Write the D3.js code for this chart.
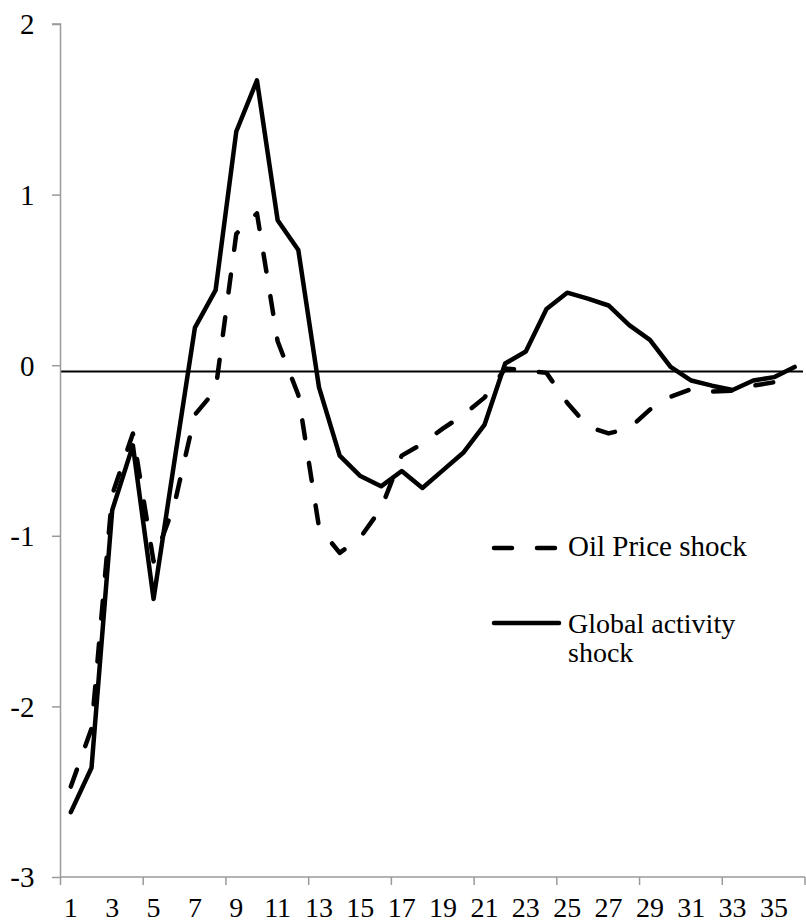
<!DOCTYPE html>
<html>
<head>
<meta charset="utf-8">
<script src="https://cdn.jsdelivr.net/npm/d3@7"></script>
<style>
  html, body { margin: 0; padding: 0; background: #fff; }
  svg { display: block; }
  text { font-family: "Liberation Serif", "Times New Roman", serif; fill: #000; }
</style>
</head>
<body>
<svg id="chart" width="806" height="923"></svg>
<script>
// ---- data ----
const periods = d3.range(1, 37);
const oilPrice = [-2.47, -2.13, -0.76, -0.40, -1.15, -0.82, -0.29, -0.145, 0.77, 0.89,
                  0.14, -0.175, -0.95, -1.10, -1.01, -0.84, -0.53, -0.46, -0.37, -0.29,
                  -0.19, -0.02, -0.03, -0.045, -0.22, -0.36, -0.40, -0.37, -0.26, -0.185,
                  -0.14, -0.155, -0.15, -0.12, -0.10, -0.08];
const globalActivity = [-2.62, -2.36, -0.85, -0.47, -1.37, -0.57, 0.22, 0.44, 1.37, 1.67,
                        0.85, 0.675, -0.13, -0.53, -0.65, -0.71, -0.62, -0.72, -0.615, -0.51,
                        -0.35, 0.01, 0.08, 0.33, 0.425, 0.39, 0.35, 0.235, 0.148, -0.01,
                        -0.09, -0.12, -0.145, -0.09, -0.07, -0.01];
const referenceLevel = [-0.037, -0.037];
const yTicks = [-3, -2, -1, 0, 1, 2];
const yTickLabels = ["-3", "-2", "-1", "0", "1", "2"];
const xTickLabels = periods.filter(p => p % 2 === 1);
const seriesNames = ["Oil Price shock", "Global activity", "shock"];

(function () {
// ---- layout ----
const svg = d3.select("#chart");
const pLeft = 60.5, pRight = 805, pTop = 24, pBottom = 877;

const x = d3.scaleBand().domain(periods).range([pLeft, pRight]).paddingInner(0).paddingOuter(0);
const xc = p => x(p) + x.bandwidth() / 2;
const y = d3.scaleLinear().domain([-3, 2]).range([pBottom, pTop]);

const axisColor = "#9a9a9a";

// reference (horizontal) line
svg.append("line")
  .attr("x1", pLeft).attr("x2", pRight - 2)
  .attr("y1", y(referenceLevel[0])).attr("y2", y(referenceLevel[1]))
  .attr("stroke", "#000").attr("stroke-width", 2);

// y axis
const yAxis = d3.axisLeft(y).tickValues(yTicks).tickSize(8.5)
  .tickFormat((d, i) => yTickLabels[i]);
const gy = svg.append("g").attr("transform", `translate(${pLeft},0)`).call(yAxis);
gy.select(".domain").attr("stroke", axisColor).attr("stroke-width", 1.5).attr("d", `M-8.5,${pTop}H0V${pBottom}`);
gy.selectAll(".tick line").attr("stroke", axisColor).attr("stroke-width", 1.5);
gy.selectAll(".tick text")
  .attr("x", -26).attr("dy", "0.34em")
  .style("font-family", "'Liberation Serif', serif").style("font-size", "29px").attr("fill", "#000");

// x axis
const xAxis = d3.axisBottom(x).tickValues([]).tickSize(0);
const gx = svg.append("g").attr("transform", `translate(0,${pBottom})`).call(xAxis);
gx.select(".domain").attr("stroke", axisColor).attr("stroke-width", 1.5).attr("d", `M${pLeft},0H${pRight}`);
const boundaries = periods.filter(p => (p - 1) % 4 === 0).map(p => x(p)).concat([pRight]);
gx.selectAll("line.bt").data(boundaries).join("line").attr("class", "bt")
  .attr("x1", d => d).attr("x2", d => d).attr("y1", 0).attr("y2", 8)
  .attr("stroke", axisColor).attr("stroke-width", 1.5);
gx.selectAll("text.xl").data(xTickLabels).join("text").attr("class", "xl")
  .attr("x", d => xc(d)).attr("y", 40)
  .attr("text-anchor", "middle").style("font-size", "28px")
  .text(d => d);

// lines
const line = d3.line().x((d, i) => xc(periods[i])).y(d => y(d));
svg.append("path").datum(oilPrice)
  .attr("d", line).attr("fill", "none").attr("stroke", "#000")
  .attr("stroke-width", 4.5).attr("stroke-dasharray", "18,25")
  .attr("stroke-linecap", "round").attr("stroke-linejoin", "round");
svg.append("path").datum(globalActivity)
  .attr("d", line).attr("fill", "none").attr("stroke", "#000")
  .attr("stroke-width", 4.5).attr("stroke-linecap", "round").attr("stroke-linejoin", "round");

// legend
const lg = svg.append("g");
lg.append("line").attr("x1", 494).attr("x2", 558).attr("y1", 548).attr("y2", 548)
  .attr("stroke", "#000").attr("stroke-width", 4.5).attr("stroke-dasharray", "18,25").attr("stroke-linecap", "round");
lg.append("text").attr("x", 568).attr("y", 556).style("font-size", "29px").text(seriesNames[0]);
lg.append("line").attr("x1", 494).attr("x2", 559).attr("y1", 623).attr("y2", 623)
  .attr("stroke", "#000").attr("stroke-width", 4.5).attr("stroke-linecap", "round");
lg.append("text").attr("x", 568).attr("y", 633).style("font-size", "28px").text(seriesNames[1]);
lg.append("text").attr("x", 568).attr("y", 662).style("font-size", "28px").text(seriesNames[2]);
})();
</script>
</body>
</html>
